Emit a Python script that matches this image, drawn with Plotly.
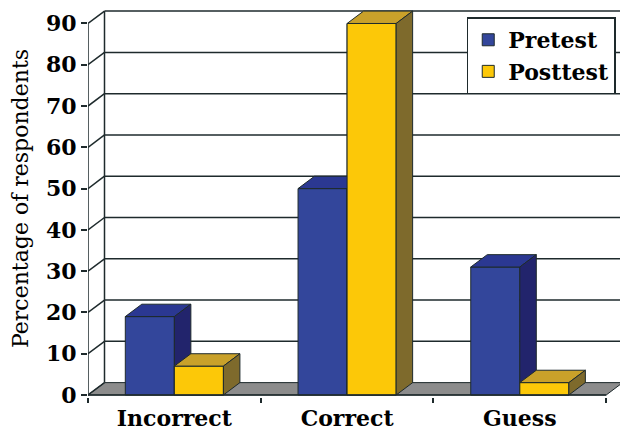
import plotly.graph_objects as go

categories = ["Incorrect", "Correct", "Guess"]
pretest = [19, 50, 31]
posttest = [7, 90, 3]
series_names = ["Pretest", "Posttest"]
y_ticks = [0, 10, 20, 30, 40, 50, 60, 70, 80, 90]

# style / geometry constants
W = 0.284          # bar width (category units)
DX = 0.0955        # depth offset in x (category units)
DY = 3.0           # depth offset in y (value units)
XMAX = 2.58
YMIN, YMAX = -0.4845, 95.69
LINE = "#1e2a2c"
FONT = "DejaVu Serif"
colors = {
    "Pretest": dict(front="#33469b", top="#2b3892", side="#22246c"),
    "Posttest": dict(front="#fcc808", top="#c9a12a", side="#7e6a2c"),
}

xs = list(range(len(categories)))
fig = go.Figure()

# front faces as real bars
for name, vals, off in [("Pretest", pretest, -W), ("Posttest", posttest, 0.0)]:
    fig.add_trace(go.Bar(
        x=xs, y=vals, width=W, offset=off, name=name,
        marker=dict(color=colors[name]["front"], line=dict(color=LINE, width=1)),
        hoverinfo="skip",
    ))

def polys(vals, off, kind):
    px, py = [], []
    for c, v in zip(xs, vals):
        x0, x1 = c + off, c + off + W
        if kind == "top":
            pts = [(x0, v), (x1, v), (x1 + DX, v + DY), (x0 + DX, v + DY), (x0, v)]
        elif kind == "side":
            pts = [(x1, 0), (x1, v), (x1 + DX, v + DY), (x1 + DX, DY), (x1, 0)]
        else:
            pts = [(x0, 0), (x0, v), (x1, v), (x1, 0), (x0, 0)]
        px += [p[0] for p in pts] + [None]
        py += [p[1] for p in pts] + [None]
    return px, py

order = [("Pretest", pretest, -W, "top"), ("Pretest", pretest, -W, "side"),
         ("Posttest", posttest, 0.0, "front"), ("Posttest", posttest, 0.0, "top"),
         ("Posttest", posttest, 0.0, "side")]
for name, vals, off, kind in order:
    px, py = polys(vals, off, kind)
    fig.add_trace(go.Scatter(
        x=px, y=py, mode="lines", fill="toself",
        fillcolor=colors[name][kind], line=dict(color=LINE, width=1),
        showlegend=False, hoverinfo="skip",
    ))

shapes = []
x_left = -0.5
x_right_front = len(categories) - 0.5
# floor
shapes.append(dict(type="path", layer="below",
                   path=f"M{x_left},0 L{x_right_front},0 L{x_right_front+DX},{DY} L{x_left+DX},{DY} Z",
                   fillcolor="#8c8c8c", line=dict(color=LINE, width=1)))
# back wall gridlines and connectors
for v in y_ticks:
    shapes.append(dict(type="line", layer="below", x0=x_left, y0=v, x1=x_left + DX, y1=v + DY,
                       line=dict(color=LINE, width=1.5)))
    if v > 0:
        shapes.append(dict(type="line", layer="below", x0=x_left + DX, y0=v + DY, x1=XMAX, y1=v + DY,
                           line=dict(color=LINE, width=1.5)))
shapes.append(dict(type="line", layer="below", x0=x_left + DX, y0=DY, x1=x_left + DX, y1=y_ticks[-1] + DY,
                   line=dict(color=LINE, width=1.5)))
# front axis lines
shapes.append(dict(type="line", layer="above", x0=x_left, y0=0, x1=x_left, y1=y_ticks[-1],
                   line=dict(color=LINE, width=1.5)))
shapes.append(dict(type="line", layer="above", x0=x_left, y0=0, x1=x_right_front, y1=0,
                   line=dict(color=LINE, width=1.5)))

fig.update_layout(
    width=620, height=433, autosize=False,
    margin=dict(l=88, r=0, t=0, b=36),
    paper_bgcolor="white", plot_bgcolor="white",
    barmode="overlay",
    shapes=shapes,
    showlegend=True,
    legend=dict(x=0.992, xanchor="right", y=0.956, yanchor="top",
                bgcolor="white", bordercolor=LINE, borderwidth=1.5,
                font=dict(family=FONT, size=22, color="black", weight="bold"),
                traceorder="normal"),
    xaxis=dict(range=[x_left, XMAX], showgrid=False, zeroline=False, showline=False,
               tickmode="array", tickvals=xs, ticktext=categories, ticks="",
               ticklabelstandoff=6,
               tickfont=dict(family=FONT, size=22, color="black", weight="bold"),
               minor=dict(tickmode="linear", tick0=-0.5, dtick=1, ticks="outside",
                          ticklen=5, tickwidth=1.5, tickcolor=LINE, showgrid=False)),
    yaxis=dict(range=[YMIN, YMAX], showgrid=False, zeroline=False, showline=False,
               tickmode="array", tickvals=y_ticks, ticks="outside", ticklen=6,
               tickwidth=1.5, tickcolor=LINE,
               tickfont=dict(family=FONT, size=22, color="black", weight="bold"),
               title=dict(text="Percentage of respondents", standoff=11,
                          font=dict(family=FONT, size=22, color="black"))),
)

fig.write_html("out.html")
